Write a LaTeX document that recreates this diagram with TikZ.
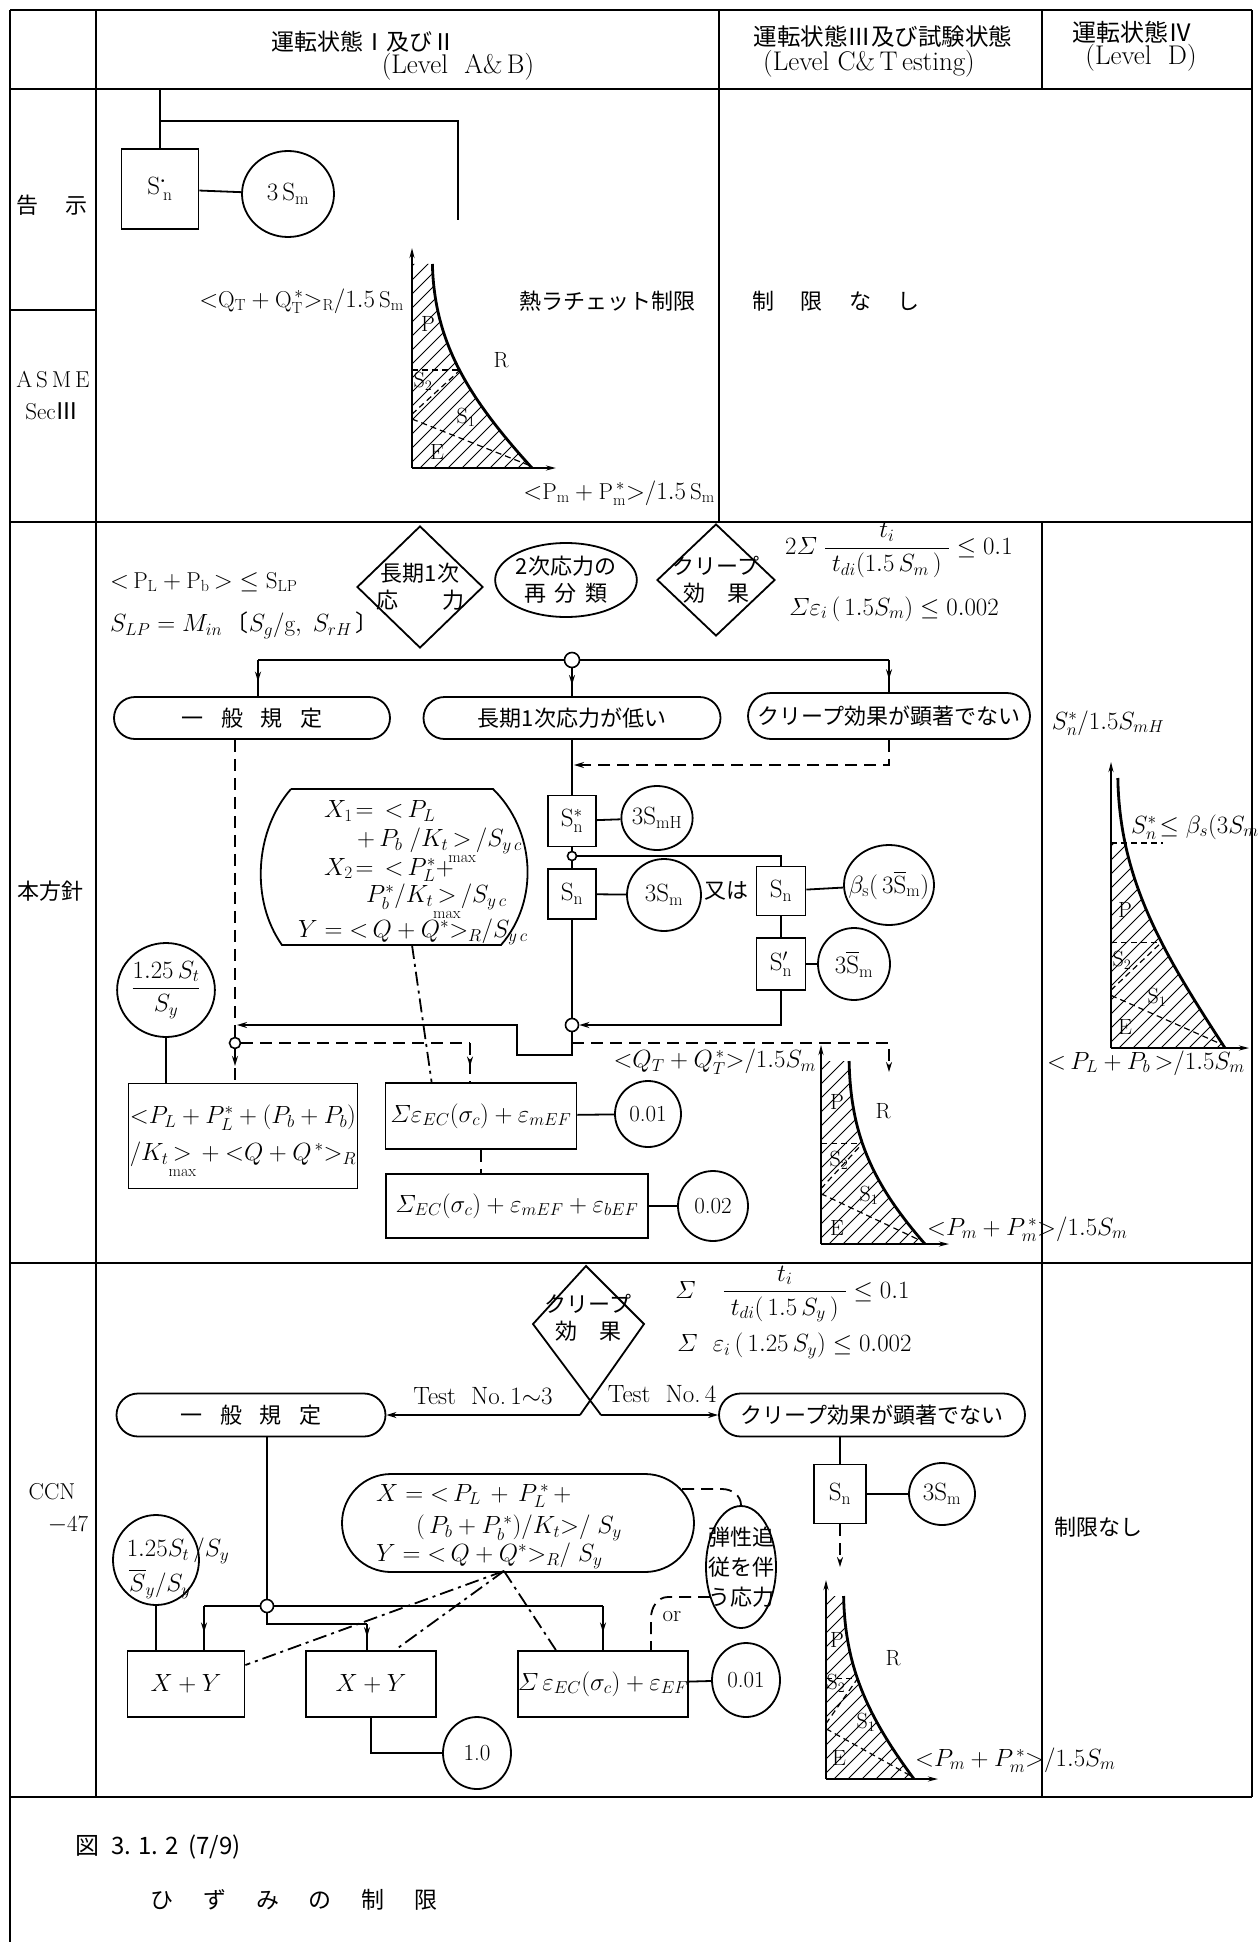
\documentclass[tikz,border=0pt]{standalone}
\usepackage{fontspec}
\usepackage{amsmath}
\newfontfamily\jp{Noto Sans CJK JP}
\usetikzlibrary{shapes.geometric,shapes.misc,arrows.meta,decorations.markings,calc}

\tikzset{
  every node/.style={font=\fontsize{23}{27}\selectfont, inner sep=1pt},
  jpf/.style={font=\jp\fontsize{22}{27}\selectfont},
  big/.style={font=\fontsize{27}{31}\selectfont},
  mid/.style={font=\fontsize{25}{29}\selectfont},
  brt/.style={font=\fontsize{23}{26}\selectfont, inner sep=0pt, anchor=west},
  fr/.style={line width=2.2pt},
  ln/.style={line width=1.8pt},
  dsh/.style={line width=1.8pt, dash pattern=on 12pt off 7pt},
  dd/.style={line width=1.8pt, dash pattern=on 14pt off 5pt on 3pt off 5pt},
  tip/.style={-{Stealth[length=10pt,width=6pt]}},
  midarr/.style={postaction={decorate}, decoration={markings, mark=at position #1 with {\arrow{Stealth[length=10pt,width=6pt]}}}},
  midarr/.default=0.6,
  bx/.style={draw, line width=1.8pt, rectangle, inner sep=0pt},
  cir/.style={draw, line width=1.8pt, ellipse, inner sep=0pt},
  stad/.style={draw, line width=1.8pt, rounded rectangle, inner sep=0pt},
  dia/.style={draw, line width=1.8pt, diamond, inner sep=0pt},
  jn/.style={draw, line width=1.6pt, circle, fill=white, inner sep=0pt},
  hatch/.style={line width=1pt},
  gdash/.style={line width=1.2pt, dash pattern=on 6pt off 4pt},
  curve/.style={line width=2.8pt},
  axisl/.style={line width=1.8pt, -{Stealth[length=10pt,width=5pt]}},
  lbl/.style={font=\fontsize{22}{26}\selectfont},
}
\newcommand\mx{\smash{\underset{\mathrm{max}}{>}}}

% #1 name, #2 axis x, #3 baseline y, #4 width, #5 height, #6 curve-top offset (%),
% #7 level of P/S2 boundary (%), #8 end of S2/S1 boundary (%), #9 top of hatching (%)
\newcommand\rgraph[9]{%
  \begin{scope}[shift={(#2,#3)}, xscale=#4/100, yscale=-#5/100]
    \coordinate (#1o) at (0,0);
    \coordinate (#1top) at (0,100);
    \coordinate (#1T) at (#6,100);
    \coordinate (#1c1) at ({#6+1.5},62);
    \coordinate (#1c2) at (46,35);
    \coordinate (#1B) at (100,0);
    \coordinate (#1h1) at (0,#7);
    \coordinate (#1h2) at (100,#7);
    \coordinate (#1d1) at (0,{0.55*#7});
    \coordinate (#1d2) at (#8,#7);
    \coordinate (#1e1) at (0,{0.5*#7});
    \coordinate (#1e2) at (99,1);
    \coordinate (#1rt) at (130,#9);
  \end{scope}
  \begin{scope}
    \clip (#1o) rectangle (#1rt);
    \clip (#1o) -- (#1top) -- (#1T) .. controls (#1c1) and (#1c2) .. (#1B) -- cycle;
    \foreach \k in {-300,-286,...,140} \draw[hatch] ($(#1o)+(\k,0)$) -- ++(330,-330);
    \draw[gdash] (#1h1) -- (#1h2);
    \draw[gdash] (#1d1) -- (#1d2);
    \draw[gdash] (#1e1) -- (#1e2);
  \end{scope}
  \draw[curve] (#1T) .. controls (#1c1) and (#1c2) .. (#1B);
  \draw[axisl] (#1o) -- ($(#1o|-#1T)+(0,-16)$);
  \draw[axisl] (#1o) -- ($(#1B)+(24,0)$);
}

\begin{document}
\begin{tikzpicture}[x=1pt,y=-1pt]
\useasboundingbox (0,0) rectangle (1258,1942);
\fill[white] (0,0) rectangle (1258,1942);

% ---------------- frame ----------------
\draw[fr] (10,10) -- (1252,10);
\draw[fr] (10,10) -- (10,1942);
\draw[fr] (1252,10) -- (1252,1797);
\draw[fr] (96,10) -- (96,1797);
\draw[fr] (719,10) -- (719,522);
\draw[fr] (1042,10) -- (1042,89);
\draw[fr] (1042,522) -- (1042,1797);
\draw[fr] (10,89) -- (1252,89);
\draw[fr] (10,522) -- (1252,522);
\draw[fr] (10,1263) -- (1252,1263);
\draw[fr] (10,1797) -- (1252,1797);
\draw[ln] (10,310) -- (96,310);

% ---------------- header ----------------
\node[jpf, font=\jp\fontsize{23}{27}\selectfont] (h1a) at (363,42) {運転状態Ⅰ及びⅡ};
\node[big] (h1b) at (458,67) {(Level\ \ A\&\,B)};
\node[jpf, font=\jp\fontsize{23.5}{27}\selectfont] (h2a) at (883,37) {運転状態Ⅲ及び試験状態};
\node[big] (h2b) at (869,64) {(Level C\&\,T\,esting)};
\node[jpf, font=\jp\fontsize{24}{27}\selectfont] (h3a) at (1132,32) {運転状態Ⅳ};
\node[big] (h3b) at (1141,58) {(Level\ \ D)};

% ---------------- row labels ----------------
\node[jpf] (lb1) at (52,205) {告\hspace{1.2em}示};
\node (lb2) at (53,380) {A\,S\,M\,E};
\node (lb3) at (52,411) {Sec{\jp Ⅲ}};
\node[jpf] (lb4) at (50,891) {本方針};
\node (lb5) at (52,1492) {CCN};
\node (lb6) at (68,1525) {$-$47};

% ---------------- row 1 : ASME ----------------
\node[bx, minimum width=77pt, minimum height=80pt, mid] (snA) at (160,189) {S$^{\boldsymbol{\cdot}}_{\,\mathrm{n}}$};
\node[cir, minimum width=92pt, minimum height=86pt, mid] (smA) at (288,194) {3\,S$_\mathrm{m}$};
\draw[ln] (snA) -- (smA);
\coordinate (a0) at (160,89);
\coordinate (a1) at (160,121);
\coordinate (a2) at (458,121);
\coordinate (a3) at (458,220);
\draw[ln] (a0) -- (snA.north);
\draw[ln] (a1) -- (a2) -- (a3);

\rgraph{G}{412}{468}{120}{204}{17}{48}{40}{100}
\node[lbl] (gP) at (428,324) {P};
\node[lbl] (gS2) at (423,381) {S$_2$};
\node[lbl] (gS1) at (466,417) {S$_1$};
\node[lbl] (gE) at (437,452) {E};
\node[lbl] (gR) at (501,360) {R};
\node[anchor=east] (gq) at (405,301) {${<}\mathrm{Q_T}+\mathrm{Q_T^{\,*}}{>}_{\mathrm R}/1.5\,\mathrm{S_m}$};
\node[jpf] (gn) at (607,301) {熱ラチェット制限};
\node[anchor=east] (gp) at (716,493) {${<}\mathrm{P_m}+\mathrm{P_m^{\,*}}{>}/1.5\,\mathrm{S_m}$};
\node[jpf] (nl1) at (836,301) {制\hspace{1.2em}限\hspace{1.2em}な\hspace{1.2em}し};

% ---------------- row 2 : 本方針 ----------------
\node[anchor=west] (ineq) at (109,582) {${<}\,\mathrm{P_L}+\mathrm{P_b}\,{>}\leq\mathrm{S_{LP}}$};
\node[anchor=west] (slp) at (109,625) {$S_{LP}=M_{in}$\,{\jp 〔}$S_g/\mathrm{g},\ S_{rH}$\,{\jp 〕}};

\node[dia, minimum width=126pt, minimum height=122pt] (d1) at (420,587) {};
\node[jpf, align=center] (d1t) at (d1) {長期1次\\応\hspace{2em}力};
\node[cir, jpf, minimum width=120pt, minimum height=74pt, align=center] (e1) at (566,580) {2次応力の\\再\hspace{0.4em}分\hspace{0.4em}類};
\node[dia, minimum width=118pt, minimum height=112pt] (d2) at (716,580) {};
\node[jpf, align=center] (d2t) at (d2) {クリープ\\効\hspace{1em}果};

\node[anchor=west, big] (f1) at (784,550) {$2\varSigma\;\dfrac{t_i}{\;t_{di}(1.5\,S_m\,)\;}\leq 0.1$};
\node[anchor=west, mid] (f2) at (788,609) {$\varSigma\varepsilon_i\,(\,1.5S_m)\leq0.002$};

\node[jn, minimum size=15pt] (J1) at (572,660) {};
\node[stad, jpf, minimum width=276pt, minimum height=42pt] (sA) at (252,718) {一\hspace{0.8em}般\hspace{0.8em}規\hspace{0.8em}定};
\node[stad, jpf, minimum width=297pt, minimum height=42pt] (sB) at (572,718) {長期1次応力が低い};
\node[stad, jpf, minimum width=282pt, minimum height=46pt] (sC) at (889,716) {クリープ効果が顕著でない};

\coordinate (kA) at (258,660);
\coordinate (kC) at (889,660);
\draw[ln] (J1.west) -- (kA);
\draw[ln, midarr] (kA) -- (kA|-sA.north);
\draw[ln] (J1.east) -- (kC);
\draw[ln, midarr] (kC) -- (kC|-sC.north);
\draw[ln, midarr] (J1.south) -- (J1|-sB.north);

\node[bx, minimum width=48pt, minimum height=51pt, mid] (snS) at (572,821) {S$^*_\mathrm{n}$};
\node[cir, minimum width=64pt, minimum height=64pt, mid] (smH) at (657,818) {3S$_\mathrm{mH}$};
\node[jn, minimum size=9pt] (J2) at (572,856) {};
\node[bx, minimum width=48pt, minimum height=50pt, mid] (snL) at (572,894) {S$_\mathrm{n}$};
\node[cir, minimum width=74pt, minimum height=72pt, mid] (sm3) at (664,895) {3S$_\mathrm{m}$};
\node[jpf] (mt) at (726,891) {又は};
\node[bx, minimum width=49pt, minimum height=49pt, mid] (snR) at (781,891) {S$_\mathrm{n}$};
\node[cir, minimum width=90pt, minimum height=80pt] (beta) at (889,885) {};
\node[mid] (betat) at (beta) {$\beta_\mathrm{s}$(\,3$\overline{\mathrm{S}}_\mathrm{m}$)};
\node[bx, minimum width=49pt, minimum height=52pt, mid] (snP) at (781,964) {S$'_\mathrm{n}$};
\node[cir, minimum width=72pt, minimum height=72pt, mid] (sm3b) at (854,964) {3$\overline{\mathrm{S}}_\mathrm{m}$};
\node[jn, minimum size=13pt] (J3) at (572,1025) {};

\draw[ln] (sB.south) -- (snS.north);
\coordinate (kD) at (574,765);
\draw[dsh, tip] (sC.south) |- (kD);
\draw[ln] (snS) -- (smH);
\draw[ln] (snS.south) -- (J2.north);
\draw[ln] (J2.south) -- (snL.north);
\draw[ln] (J2.east) -| (snR.north);
\draw[ln] (snL) -- (sm3);
\draw[ln] (snR) -- (beta);
\draw[ln] (snR.south) -- (snP.north);
\draw[ln] (snP) -- (sm3b);
\draw[ln, tip] (snP.south) |- (J3.east);
\draw[ln] (snL.south) -- (J3.north);
\coordinate (jg1) at (572,1055);
\coordinate (jg2) at (517,1055);
\coordinate (jg3) at (517,1025);
\coordinate (jg4) at (237,1025);
\draw[ln, tip] (J3.south) -- (jg1) -- (jg2) -- (jg3) -- (jg4);
\coordinate (kE) at (572,1043);
\coordinate (kE2) at (889,1072);
\draw[dsh, tip] (kE) -| (kE2);

\node[cir, minimum width=82pt, minimum height=94pt, mid] (c125) at (166,990) {$\dfrac{1.25\,S_t}{S_y}$};
\node[bx, minimum width=229pt, minimum height=105pt, align=left] (boxP) at (243,1136)
  {${<}P_L+P_L^*+(P_b+P_b)$\\[10pt]$/K_t\mx+{<}Q+Q^{\,*}{>}_R$};
\node[bx, minimum width=191pt, minimum height=66pt] (boxQ) at (481,1116) {$\varSigma\varepsilon_{EC}(\sigma_c)+\varepsilon_{mEF}$};
\node[cir, minimum width=66pt, minimum height=66pt] (c001) at (648,1114) {0.01};
\node[bx, minimum width=262pt, minimum height=64pt] (boxR) at (517,1206) {$\varSigma_{EC}(\sigma_c)+\varepsilon_{mEF}+\varepsilon_{bEF}$};
\node[cir, minimum width=70pt, minimum height=70pt] (c002) at (713,1206) {0.02};

\draw[ln] (c125.south) -- (c125.south|-boxP.north);
\draw[ln] (boxQ) -- (c001);
\draw[ln] (boxR) -- (c002);
\draw[dsh] (boxQ.south) -- (boxQ.south|-boxR.north);

\node[jn, minimum size=11pt] (J4) at (235,1043) {};
\coordinate (qA) at ($(sA.south)+(-17,0)$);
\draw[dsh] (qA) -- (J4.north);
\draw[dsh, midarr=0.5] (J4.south) -- (J4|-boxP.north);
\coordinate (kF) at (470,1043);
\draw[dsh] (J4.east) -- (kF);
\draw[dsh, midarr=0.6] (kF) -- (kF|-boxQ.north);

% barrel
\coordinate (br1) at (291,789);
\coordinate (br2) at (493,789);
\coordinate (br3) at (501,945);
\coordinate (br4) at (282,945);
\draw[ln] (br1) -- (br2) .. controls (535,830) and (540,900) .. (br3) -- (br4) .. controls (250,900) and (255,830) .. (br1);
\node[brt] (b1) at (324,811) {$X_1\!=\,{<}\,P_L$};
\node[brt] (b2) at (357,841) {$+\,P_b\ /K_t\mx/S_{y\,c}$};
\node[brt] (b3) at (324,870) {$X_2\!=\,{<}\,P_L^*+$};
\node[brt] (b4) at (366,897) {$P_b^*/K_t\mx/S_{y\,c}$};
\node[brt] (b5) at (298,932) {$Y={<}\,Q+Q^*{>}_R/S_{y\,c}$};
\coordinate (brb) at (412,945);
\draw[dd] (brb) -- ($(boxQ.north west)+(47,0)$);

\rgraph{H}{821}{1244}{104}{183}{27}{55}{40}{100}
\node[lbl] (hP) at (837,1102) {P};
\node[lbl] (hR) at (883,1111) {R};
\node[lbl] (hS2) at (839,1160) {S$_2$};
\node[lbl] (hS1) at (869,1195) {S$_1$};
\node[lbl] (hE) at (837,1228) {E};
\node[anchor=east] (hq) at (817,1062) {${<}Q_T+Q_T^{\,*}{>}/1.5S_m$};
\node[anchor=west] (hp) at (926,1229) {${<}P_m+P_m^{\,*}{>}/1.5S_m$};

% column IV graph
\rgraph{K}{1111}{1048}{114}{270}{6}{39}{44}{76}
\coordinate (kl1) at (1111,843);
\coordinate (kl2) at (1163,843);
\draw[gdash] (kl1) -- (kl2);
\node[lbl] (kP) at (1125,910) {P};
\node[lbl] (kS2) at (1122,960) {S$_2$};
\node[lbl] (kS1) at (1157,997) {S$_1$};
\node[lbl] (kE) at (1125,1027) {E};
\node (kq) at (1108,723) {$S_n^*/1.5S_{mH}$};
\begin{scope}
\clip (0,0) rectangle (1258,1942);
\node[anchor=west] (kl) at (1130,827) {$S_n^*\!\leq\beta_s(3S_m)$};
\node[anchor=west] (kp) at (1046,1063) {${<}\,P_L+P_b\,{>}/1.5S_m$};
\end{scope}

% ---------------- row 3 : CCN-47 ----------------
\node[anchor=west, big] (f3) at (674,1294) {$\varSigma\quad\dfrac{t_i}{\;t_{di}(\,1.5\,S_y\,)\;}\leq0.1$};
\node[anchor=west, mid] (f4) at (676,1346) {$\varSigma\ \ \varepsilon_i\,(\,1.25\,S_y)\leq0.002$};

\node[stad, jpf, minimum width=269pt, minimum height=43pt] (sA3) at (251,1415) {一\hspace{0.8em}般\hspace{0.8em}規\hspace{0.8em}定};
\node[stad, jpf, minimum width=306pt, minimum height=43pt] (sC3) at (872,1415) {クリープ効果が顕著でない};

\coordinate (dT) at (586,1266);
\coordinate (dL) at (533,1324);
\coordinate (dR) at (644,1324);
\coordinate (dXa) at (580,1415);
\coordinate (dXb) at (601,1415);
\draw[ln] (dXb) -- (dL) -- (dT) -- (dR) -- (dXa);
\node[jpf, align=center] (d3t) at (588,1318) {クリープ\\効\hspace{1em}果};
\draw[ln, tip] (dXa) -- (dXa -| sA3.east);
\draw[ln, tip] (dXb) -- (dXb -| sC3.west);
\node[mid] (tn13) at (483,1396) {Test\ \ No.\,1$\sim$3};
\node[mid] (tn4) at (662,1394) {Test\ \ No.\,4};

\node[bx, minimum width=52pt, minimum height=59pt, mid] (snC) at (840,1494) {S$_\mathrm{n}$};
\node[cir, minimum width=66pt, minimum height=62pt, mid] (smC) at (942,1494) {3S$_\mathrm{m}$};
\draw[ln] (sC3.south -| snC) -- (snC.north);
\draw[ln] (snC) -- (smC);
\coordinate (snCe) at (840,1567);
\draw[dsh, tip] (snC.south) -- (snCe);

\rgraph{M}{826}{1779}{88}{183}{20}{55}{36}{100}
\node[lbl] (mP) at (837,1640) {P};
\node[lbl] (mR) at (893,1658) {R};
\node[lbl] (mS2) at (836,1683) {S$_2$};
\node[lbl] (mS1) at (866,1722) {S$_1$};
\node[lbl] (mE) at (839,1758) {E};
\node[anchor=west] (mp) at (914,1760) {${<}P_m+P_m^{\,*}{>}/1.5S_m$};

\node[stad, minimum width=352pt, minimum height=98pt] (stX) at (518,1523) {};
\node[anchor=west] (x1) at (375,1496) {$X={<}\,P_L\,+\,P_L^{\,*}\,+$};
\node[anchor=west] (x2) at (415,1528) {$(\,P_b+P_b^{\,*})/K_t{>}/\ S_y$};
\node[anchor=west] (x3) at (375,1556) {$Y={<}\,Q+Q^*{>}_R/\ S_y$};

\node[cir, minimum width=70pt, minimum height=122pt] (el) at (741,1567) {};
\node[jpf, align=center, font=\jp\fontsize{22}{30}\selectfont] (elt) at (el) {弾性追\\従を伴\\う応力};
\coordinate (ea1) at (682,1489);
\coordinate (ea2) at (722,1489);
\draw[dsh] (ea1) -- (ea2) to[out=0,in=90] (el.north);
\coordinate (eb1) at (710,1597);
\coordinate (eb2) at (668,1597);
\coordinate (eb3) at (651,1618);
\node[jn, minimum size=13pt] (J5) at (267,1606) {};

\node[cir, minimum width=86pt, minimum height=90pt] (cb) at (156,1560) {};
\node (cb1) at (178,1551) {$1.25S_t\,/S_y$};
\node (cb2) at (160,1584) {$\overline{S}_y/S_y$};

\node[bx, minimum width=117pt, minimum height=66pt, mid] (x1b) at (186,1684) {$X+Y$};
\node[bx, minimum width=130pt, minimum height=66pt, mid] (x2b) at (371,1684) {$X+Y$};
\node[bx, minimum width=150pt, minimum height=66pt] (x3b) at (603,1684) {$\varSigma\,\varepsilon_{EC}(\sigma_c)+\varepsilon_{EF}$};
\node[cir, minimum width=68pt, minimum height=74pt] (c001b) at (746,1680) {0.01};
\node[cir, minimum width=68pt, minimum height=72pt] (c10) at (477,1753) {1.0};

\draw[dsh] (eb1) -- (eb2) to[out=180,in=90] (eb3) -- (eb3|-x3b.north);
\node (orl) at (672,1616) {or};

\draw[ln] (sA3.south -| J5) -- (J5.north);
\coordinate (m1) at (204,1606);
\coordinate (m2) at (603,1606);
\draw[ln] (J5.west) -- (m1);
\draw[ln, midarr] (m1) -- (m1|-x1b.north);
\draw[ln] (J5.east) -- (m2);
\draw[ln, midarr] (m2) -- (m2|-x3b.north);
\coordinate (m3) at (267,1624);
\coordinate (m4) at (367,1624);
\draw[ln] (J5.south) -- (m3) -- (m4);
\draw[ln, midarr=0.5] (m4) -- (m4|-x2b.north);
\draw[ln] (cb.south) -- (cb.south|-x1b.north);
\draw[ln] (x3b) -- (c001b);
\draw[ln] (x2b.south) |- (c10.west);

\coordinate (xb) at (504,1571);
\draw[dd] (xb) -- ($(x1b.east)+(0,-19)$);
\draw[dd] (xb) -- ($(x2b.north)+(24,0)$);
\draw[dd] (xb) -- ($(x3b.north west)+(39,0)$);

\node[jpf] (nl2) at (1098,1527) {制限なし};

% ---------------- caption ----------------
\node[jpf, anchor=west, font=\jp\fontsize{24}{28}\selectfont] (cap1) at (74,1847) {図\hspace{0.5em}3.\hspace{0.3em}1.\hspace{0.3em}2\hspace{0.4em}(7/9)};
\node[jpf, anchor=west, font=\jp\fontsize{23}{28}\selectfont] (cap2) at (149,1900) {ひ\hspace{1.3em}ず\hspace{1.3em}み\hspace{1.3em}の\hspace{1.3em}制\hspace{1.3em}限};
\end{tikzpicture}
\end{document}
